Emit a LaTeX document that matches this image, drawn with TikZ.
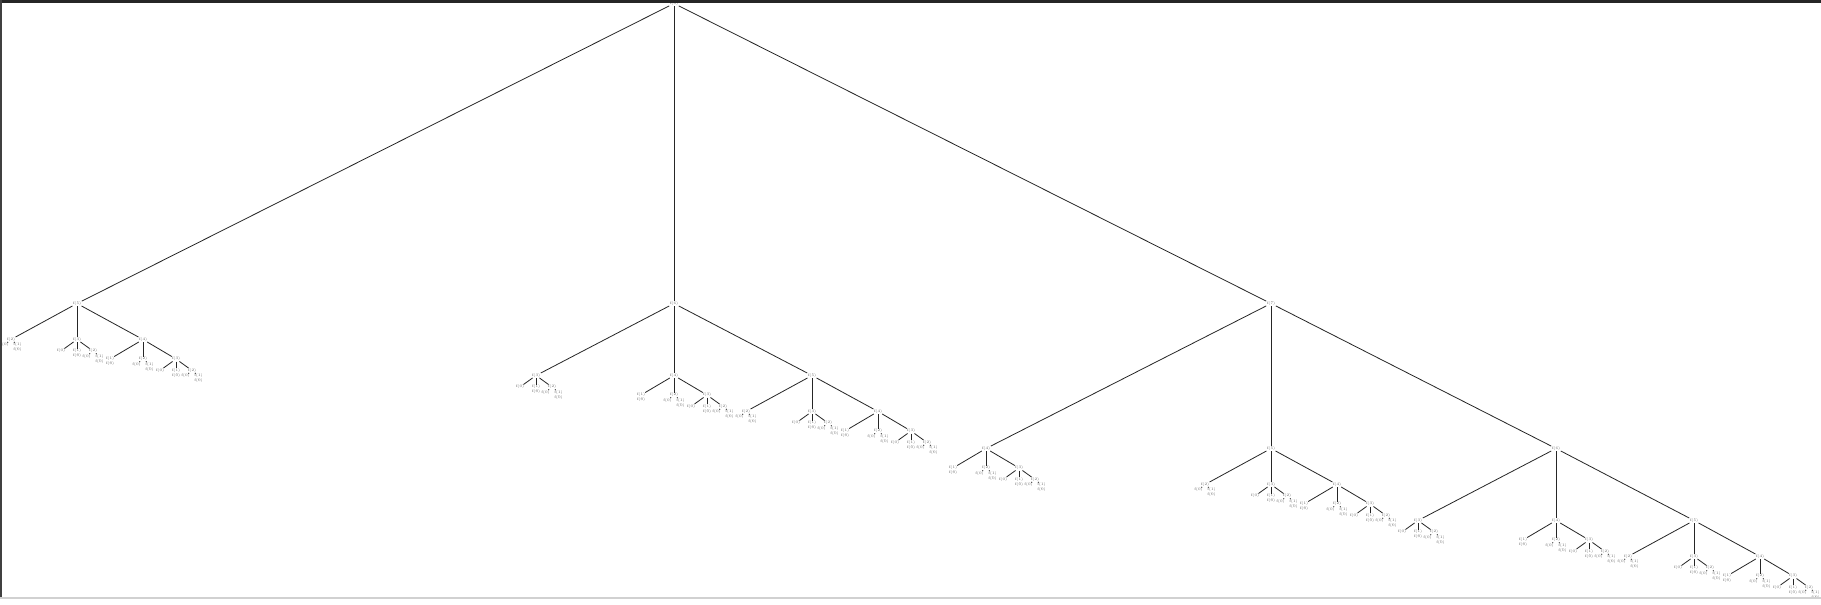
\documentclass[tikz,border=0pt]{standalone}
\expandafter\def\csname dv3\endcsname{16}
\expandafter\def\csname dv4\endcsname{33}
\expandafter\def\csname dv5\endcsname{66}
\expandafter\def\csname dv6\endcsname{138}
\expandafter\def\csname dv7\endcsname{285}
\expandafter\def\csname dv8\endcsname{597}
\expandafter\def\csname vv3\endcsname{11.5}
\expandafter\def\csname vv4\endcsname{19.5}
\expandafter\def\csname vv5\endcsname{36}
\expandafter\def\csname vv6\endcsname{72}
\expandafter\def\csname vv7\endcsname{145}
\expandafter\def\csname vv8\endcsname{300}
\newcommand\tribT[2]{%
  \node[lab] (#2) at (0,0) {f(#1)};%
  \ifcase#1\relax
  \or
    \begin{scope}[shift={(0,5)}]\tribT{0}{#2m}\end{scope}%
    \draw[conn] (#2) -- (#2m);%
  \or
    \begin{scope}[shift={(-6.5,5.5)}]\tribT{0}{#2l}\end{scope}%
    \begin{scope}[shift={(6.5,5.5)}]\tribT{1}{#2r}\end{scope}%
    \draw[conn] (#2) -- (#2l);%
    \draw[conn] (#2) -- (#2r);%
  \else
    \edef\dd{\csname dv#1\endcsname}\edef\vv{\csname vv#1\endcsname}%
    \begin{scope}[shift={(-\dd,\vv)}]\expandafter\tribT\expandafter{\the\numexpr#1-3\relax}{#2l}\end{scope}%
    \begin{scope}[shift={(0,\vv)}]\expandafter\tribT\expandafter{\the\numexpr#1-2\relax}{#2m}\end{scope}%
    \begin{scope}[shift={(\dd,\vv)}]\expandafter\tribT\expandafter{\the\numexpr#1-1\relax}{#2r}\end{scope}%
    \draw[conn] (#2) -- (#2l);%
    \draw[conn] (#2) -- (#2m);%
    \draw[conn] (#2) -- (#2r);%
  \fi
}
\begin{document}
\begin{tikzpicture}[x=1pt,y=-1pt,
  lab/.style={font=\fontsize{3.8}{3.8}\selectfont, text=black!60, inner sep=0.4pt},
  conn/.style={draw=black!85, line width=0.8pt}]
\useasboundingbox (0,0) rectangle (1821,605);
\fill[white] (0,0) rectangle (1821,605);
\begin{scope}[shift={(674,3.5)}]\tribT{8}{r}\end{scope}
\fill[black!85] (0,0) rectangle (1821,2.5);
\fill[black!75] (0,0) rectangle (1.8,598);
\fill[black!18] (0,597) rectangle (1821,598.5);
\end{tikzpicture}
\end{document}
